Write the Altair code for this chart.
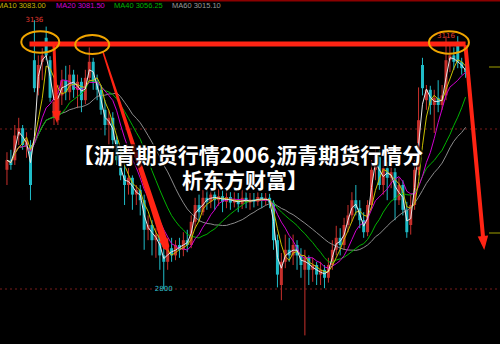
import altair as alt
import pandas as pd

# ---------------- data ----------------
bars = list(range(118))
opens = [2949, 2961, 2961, 2992, 3001, 2980, 2980, 3086, 3051, 3084,
         3114, 3086, 3014, 3011, 3042, 3061, 3046, 3068, 3049, 3059,
         3036, 3064, 3084, 3059, 3049, 3024, 3005, 3014, 2986, 2961,
         2942, 2930, 2939, 2918, 2924, 2911, 2874, 2880, 2861, 2868,
         2842, 2834, 2851, 2842, 2855, 2849, 2861, 2855, 2884, 2905,
         2896, 2914, 2909, 2918, 2911, 2916, 2909, 2915, 2908, 2912,
         2906, 2914, 2908, 2912, 2909, 2915, 2910, 2914, 2908, 2861,
         2805, 2834, 2849, 2842, 2855, 2842, 2824, 2839, 2824, 2830,
         2818, 2824, 2814, 2830, 2849, 2864, 2855, 2880, 2892, 2911,
         2901, 2886, 2871, 2905, 2949, 2968, 2930, 2951, 2939, 2946,
         2911, 2930, 2899, 2880, 2905, 2949, 3080, 3036, 3049, 3030,
         3039, 3030, 3042, 3086, 3092, 3109, 3084, 3076]
closes = [2961, 2955, 2992, 3001, 2980, 2986, 2930, 3051, 3080, 3092,
          3092, 3039, 3034, 3042, 3061, 3046, 3068, 3049, 3059, 3036,
          3064, 3084, 3059, 3049, 3024, 3005, 3014, 2986, 2961, 2942,
          2930, 2939, 2918, 2924, 2911, 2874, 2880, 2861, 2868, 2842,
          2834, 2851, 2842, 2855, 2849, 2861, 2855, 2884, 2905, 2896,
          2914, 2909, 2918, 2911, 2916, 2909, 2915, 2908, 2912, 2906,
          2914, 2908, 2912, 2909, 2915, 2910, 2914, 2908, 2861, 2818,
          2834, 2849, 2842, 2855, 2842, 2830, 2839, 2824, 2830, 2818,
          2824, 2814, 2830, 2849, 2864, 2855, 2880, 2892, 2911, 2901,
          2886, 2871, 2905, 2949, 2968, 2930, 2951, 2939, 2946, 2911,
          2930, 2899, 2871, 2905, 2949, 3011, 3051, 3049, 3030, 3039,
          3030, 3042, 3086, 3092, 3084, 3084, 3076, 3071]
highs = [2971, 2974, 3005, 3014, 3005, 2996, 2986, 3136, 3092, 3101,
         3128, 3091, 3068, 3055, 3074, 3079, 3080, 3074, 3068, 3064,
         3074, 3102, 3089, 3068, 3055, 3036, 3024, 3021, 2992, 2974,
         2955, 2951, 2942, 2930, 2930, 2918, 2892, 2886, 2876, 2871,
         2851, 2861, 2864, 2861, 2864, 2871, 2874, 2892, 2914, 2918,
         2924, 2926, 2926, 2924, 2925, 2924, 2924, 2921, 2921, 2920,
         2924, 2921, 2920, 2920, 2921, 2920, 2920, 2919, 2911, 2868,
         2845, 2868, 2864, 2868, 2861, 2851, 2849, 2842, 2839, 2834,
         2834, 2830, 2839, 2861, 2879, 2876, 2889, 2905, 2921, 2930,
         2911, 2896, 2911, 2961, 2976, 2974, 2961, 2959, 2955, 2951,
         2939, 2936, 2909, 2918, 2961, 3052, 3089, 3055, 3054, 3049,
         3061, 3055, 3116, 3105, 3102, 3116, 3089, 3084]
lows = [2930, 2949, 2955, 2980, 2974, 2964, 2911, 3046, 3042, 3061,
        3086, 3034, 3005, 3005, 3030, 3036, 3036, 3039, 3026, 3021,
        3031, 3059, 3049, 3036, 3018, 2992, 2980, 2974, 2955, 2936,
        2905, 2918, 2899, 2905, 2892, 2849, 2861, 2842, 2839, 2824,
        2800, 2824, 2834, 2836, 2839, 2841, 2846, 2851, 2876, 2884,
        2892, 2899, 2901, 2899, 2904, 2896, 2901, 2899, 2902, 2896,
        2900, 2901, 2899, 2902, 2904, 2901, 2905, 2901, 2849, 2802,
        2786, 2826, 2834, 2830, 2824, 2814, 2742, 2805, 2809, 2805,
        2805, 2801, 2808, 2824, 2842, 2842, 2849, 2871, 2884, 2892,
        2876, 2864, 2866, 2899, 2936, 2924, 2918, 2911, 2926, 2886,
        2905, 2892, 2864, 2868, 2899, 2942, 3042, 3024, 3018, 2995,
        3021, 3024, 3036, 3071, 3074, 3076, 3068, 3064]

ma_labels = ["MA10 3083.00", "MA20 3081.50", "MA40 3056.25", "MA60 3015.10"]
grid_prices = [3000, 2800]
title_lines = ["【沥青期货行情2006,沥青期货行情分", "析东方财富】"]

# ---------------- styling ----------------
UP = "#c8302c"
DOWN = "#1fbcc8"
ARROW = "#ff2414"
ORANGE = "#f0a500"

df = pd.DataFrame(dict(i=bars, o=opens, h=highs, l=lows, c=closes))
df["dir"] = ["up" if c > o else "down" for o, c in zip(opens, closes)]

xs = alt.Scale(domain=[-0.5, 124.5], nice=False, zero=False)
ys = alt.Scale(domain=[2731.25, 3161.25], nice=False, zero=False)


def X(f):
    return alt.X(f, type="quantitative", scale=xs, axis=None)


def Y(f):
    return alt.Y(f, type="quantitative", scale=ys, axis=None)


col = alt.Color("dir:N", scale=alt.Scale(domain=["up", "down"], range=[UP, DOWN]), legend=None)
base = alt.Chart(df)

grid = alt.Chart(pd.DataFrame({"p": grid_prices})).mark_rule(
    color="#7a1c1c", strokeWidth=1, strokeDash=[2, 3]
).encode(y=Y("p"), x=alt.value(0), x2=alt.value(500))

wick = base.mark_rule(strokeWidth=1).encode(x=X("i"), y=Y("l"), y2="h:Q", color=col)
body = base.mark_bar(size=3, strokeWidth=0).encode(x=X("i"), y=Y("o"), y2="c:Q", color=col)


def ma(win, color):
    return base.transform_window(
        m="mean(c)", frame=[-(win - 1), 0], sort=[alt.SortField("i")]
    ).mark_line(color=color, strokeWidth=1).encode(x=X("i"), y=Y("m"))


ma_layers = [ma(22, "#8c8c8c"), ma(15, "#00b400"), ma(8, "#d000d0"),
             ma(4, "#c8c000"), ma(2, "#e6e6e6")]

# annotations
hline = alt.Chart(pd.DataFrame({"x1": [5.75], "x2": [117.0], "p": [3106.25]})).mark_rule(
    color=ARROW, strokeWidth=5
).encode(x=X("x1"), x2="x2:Q", y=Y("p"))

arrows = pd.DataFrame(dict(
    id=["a1", "a1", "a2", "a2", "a3", "a3"], k=[0, 1, 0, 1, 0, 1],
    ax=[12.0, 12.7, 24.5, 40.5, 117.0, 121.59],
    ap=[3103.75, 3015, 3096.25, 2854, 3102.5, 2857.5],
    w=[3, 3, 1.5, 7, 4, 4]))
trail = alt.Chart(arrows).mark_trail(color=ARROW).encode(
    x=X("ax"), y=Y("ap"), size=alt.Size("w:Q", scale=None, legend=None),
    detail="id:N", order="k:Q")

heads = pd.DataFrame(dict(ax=[12.7, 40.5, 121.59], ap=[3015, 2854, 2857.5],
                          ang=[357.8, 341.7, 354.65], s=[144, 169, 196]))
head = alt.Chart(heads).mark_point(
    shape="M -0.75 -1 L 0.75 -1 L 0 1 Z", filled=True, color=ARROW, opacity=1, strokeWidth=0
).encode(x=X("ax"), y=Y("ap"), angle=alt.Angle("ang:Q", scale=None),
         size=alt.Size("s:Q", scale=None, legend=None))

ELL = ("M -1 0 C -1 -0.309 -0.552 -0.56 0 -0.56 C 0.552 -0.56 1 -0.309 1 0 "
       "C 1 0.309 0.552 0.56 0 0.56 C -0.552 0.56 -1 0.309 -1 0 Z")
ell = pd.DataFrame(dict(ex=[8.5, 21.75, 112.75], ep=[3108.75, 3105.6, 3108.1], s=[1444, 1156, 1600]))
ellipse = alt.Chart(ell).mark_point(
    shape=ELL, filled=False, color=ORANGE, strokeWidth=2, opacity=1
).encode(x=X("ex"), y=Y("ep"), size=alt.Size("s:Q", scale=None, legend=None))

ext = pd.DataFrame(dict(ex=[7, 112, 40], ep=[3136, 3116, 2800], t=["3136", "3116", "2800"],
                        dy=[-6, -6, 7], c=["#e03a30", "#e03a30", "#30c0d0"]))
ext_text = alt.Chart(ext).mark_text(fontSize=7, font="DejaVu Sans", baseline="middle").encode(
    x=X("ex"), y=Y("ep"), text="t:N", color=alt.Color("c:N", scale=None),
    yOffset=alt.YOffset("dy:Q", scale=None))

right_ticks = alt.Chart(pd.DataFrame({"p": [3077.5, 2870]})).mark_rule(
    color="#a0a000", strokeWidth=1).encode(y=Y("p"), x=alt.value(489), x2=alt.value(500))

top_line = alt.Chart(pd.DataFrame({"a": [0]})).mark_rule(color="#8b0000", strokeWidth=2).encode(
    y=alt.value(0.5), x=alt.value(0), x2=alt.value(500))

hdr = pd.DataFrame(dict(t=ma_labels, hx=[-3, 56, 114, 172],
                        c=["#c8b400", "#d000d0", "#00b400", "#999999"]))
header = alt.Chart(hdr).mark_text(fontSize=7.5, font="Liberation Sans", align="left", baseline="middle").encode(
    x=alt.X("hx:Q", scale=None), y=alt.value(6), text="t:N", color=alt.Color("c:N", scale=None))

ttl = pd.DataFrame(dict(t=title_lines, tx=[248, 245], ty=[157, 182]))
title_shadow = alt.Chart(ttl).mark_text(
    fontSize=21, font="Noto Sans CJK SC", fontWeight="bold", align="center", baseline="middle",
    stroke="black", strokeWidth=4, strokeOpacity=0.7, fill="black"
).encode(x=alt.X("tx:Q", scale=None), y=alt.Y("ty:Q", scale=None), text="t:N")
title_text = alt.Chart(ttl).mark_text(
    fontSize=21, font="Noto Sans CJK SC", fontWeight="bold", align="center", baseline="middle",
    color="white"
).encode(x=alt.X("tx:Q", scale=None), y=alt.Y("ty:Q", scale=None), text="t:N")

chart = alt.layer(
    grid, wick, body, *ma_layers, right_ticks, top_line, hline, trail, head, ellipse,
    ext_text, header, title_shadow, title_text
).resolve_scale(color="independent").properties(
    width=500, height=344, autosize=alt.AutoSizeParams(type="none"), padding=0,
    background="black"
).configure_view(stroke=None)

chart.save("out.html", embed_options={"renderer": "svg", "actions": False})
